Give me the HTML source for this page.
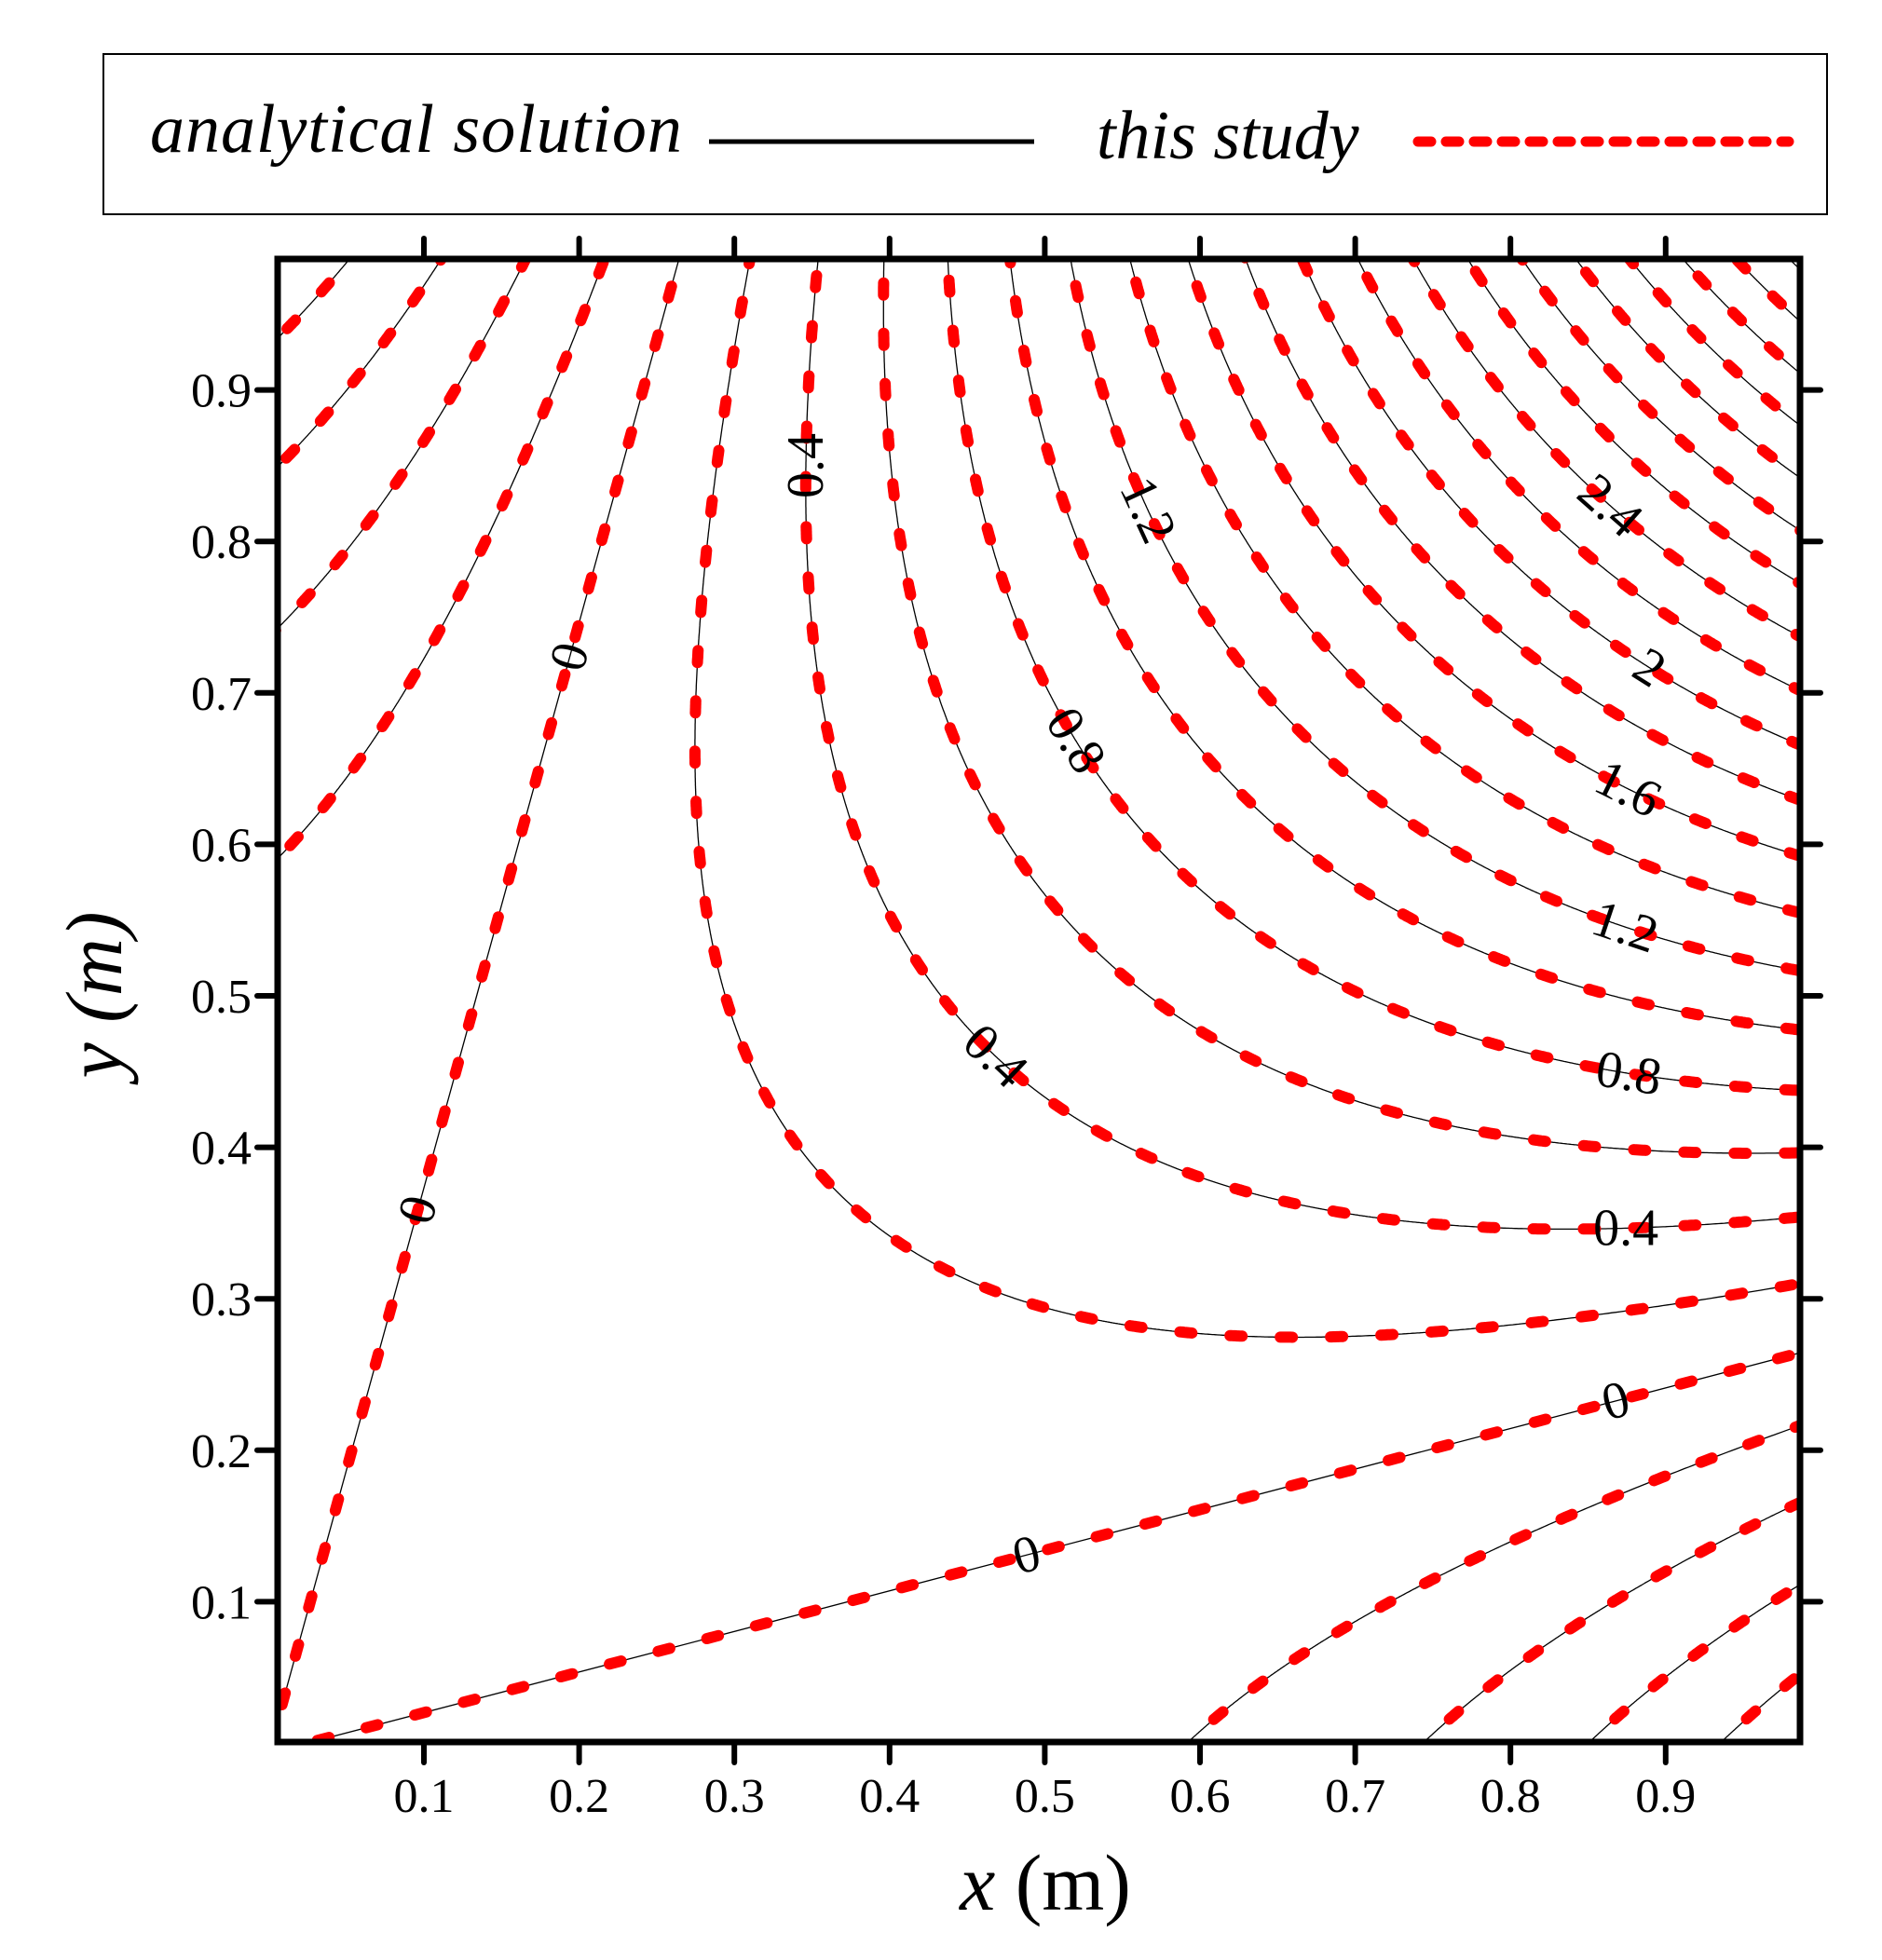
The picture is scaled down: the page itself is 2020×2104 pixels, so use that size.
<!DOCTYPE html>
<html><head><meta charset="utf-8"><style>
html,body{margin:0;padding:0;background:#fff}
svg{display:block}
text{font-family:"Liberation Serif",serif;fill:#000}
</style></head><body>
<svg id="s" width="2020" height="2104" viewBox="0 0 2020 2104" xmlns="http://www.w3.org/2000/svg">
<defs><clipPath id="cp"><rect x="298" y="278" width="1634" height="1592"/></clipPath></defs>
<rect x="111" y="58" width="1850" height="172" fill="none" stroke="#000" stroke-width="2"/>
<text x="161" y="163" font-size="74" font-style="italic" letter-spacing="1">analytical solution</text>
<line x1="761" y1="152" x2="1110" y2="152" stroke="#000" stroke-width="5"/>
<text x="1177" y="170" font-size="74" font-style="italic">this study</text>
<line x1="1522" y1="152" x2="1920" y2="152" stroke="#f00" stroke-width="11" stroke-dasharray="14 16" stroke-linecap="round"/>
<g id="curves" clip-path="url(#cp)"></g>
<g id="labels"></g>
<rect x="298" y="278" width="1634" height="1592" fill="none" stroke="#000" stroke-width="7"/>
<g id="ticks"></g>
<text x="1122" y="2050" font-size="86" text-anchor="middle"><tspan font-style="italic">x</tspan> (m)</text>
<text transform="translate(130,1068) rotate(-90)" font-size="86" text-anchor="middle" font-style="italic">y (m)</text>
</svg>
<script>
var NS="http://www.w3.org/2000/svg";
function X(x){return 288.4+1666*x;}
function Y(y){return 1882-1626*y;}
function f(x,y){return 3*x*x*y+3*x*y*y-x*x*x-y*y*y;}
function el(t,a,p){var e=document.createElementNS(NS,t);for(var k in a)e.setAttribute(k,a[k]);(p||document.getElementById('s')).appendChild(e);return e;}
var cg=document.getElementById('curves');
function draw(pts){
  if(pts.length<2)return;
  var d="M"+pts.map(function(p){return p[0].toFixed(1)+","+p[1].toFixed(1)}).join("L");
  el('path',{d:d,fill:'none',stroke:'#000','stroke-width':1.3},cg);
  el('path',{d:d,fill:'none',stroke:'#f00','stroke-width':12,'stroke-dasharray':'13 41','stroke-linecap':'round'},cg);
}
var levels=[];
for(var i=-4;i<=20;i++){levels.push(Math.round(i*20)/100);}
levels.forEach(function(c){
  if(Math.abs(c)<1e-9){
    [15,75].forEach(function(a){var t=a*Math.PI/180;draw([[X(0),Y(0)],[X(2*Math.cos(t)),Y(2*Math.sin(t))]]);});
    return;
  }
  var seg=[];
  for(var k=0;k<=3000;k++){
    var t=k/3000*Math.PI/2;
    var g=f(Math.cos(t),Math.sin(t));
    if(g*c>0){
      var r=Math.cbrt(c/g);
      if(r<2.5){var x=r*Math.cos(t),y=r*Math.sin(t);
        if(x>-0.05&&x<1.05&&y>-0.05&&y<1.05){seg.push([X(x),Y(y)]);continue;}}
    }
    if(seg.length){draw(seg);seg=[];}
  }
  if(seg.length)draw(seg);
});
var lg=document.getElementById('labels');
var labs=[["0.4",0.4,0.345,0.85,-90],["0",0,0.19,0.725,null],["0",0,0.092,0.36,null],["1.2",1.2,0.565,0.82,null],["0.8",0.8,0.505,0.66,null],["0.4",0.4,0.468,0.46,null],
["2.4",2.4,0.87,0.83,null],["2",2,0.905,0.74,null],["1.6",1.6,0.875,0.635,null],["1.2",1.2,0.872,0.54,null],["0.8",0.8,0.875,0.44,null],["0.4",0.4,0.875,0.335,0],["0",0,0.87,0.225,null],["0",0,0.49,0.125,null]];
labs.forEach(function(l){
  var c=l[1],x=l[2],y=l[3],a=l[4],h=1e-5;
  for(var it=0;it<20;it++){
    var gx=(f(x+h,y)-f(x-h,y))/(2*h),gy=(f(x,y+h)-f(x,y-h))/(2*h);
    var e=(f(x,y)-c)/(gx*gx+gy*gy);x-=e*gx;y-=e*gy;
  }
  if(a===null){
    var gx=(f(x+h,y)-f(x-h,y))/(2*h),gy=(f(x,y+h)-f(x,y-h))/(2*h);
    var tx=-gy*1666,ty=-gx*1626;
    a=Math.atan2(ty,tx)*180/Math.PI;
    if(a>90)a-=180; if(a<=-90)a+=180;
  }
  var cx=X(x),cy=Y(y);
  var t=el('text',{x:cx,y:cy+18,'font-size':56,'text-anchor':'middle',transform:'rotate('+a.toFixed(1)+' '+cx+' '+cy+')'},lg);
  t.textContent=l[0];
});
var tg=document.getElementById('ticks');
for(var i=1;i<=9;i++){
  var v=i/10,px=X(v),py=Y(v);
  el('line',{x1:px,y1:1870,x2:px,y2:1892,stroke:'#000','stroke-width':6,'stroke-linecap':'round'},tg);
  el('line',{x1:px,y1:278,x2:px,y2:256,stroke:'#000','stroke-width':6,'stroke-linecap':'round'},tg);
  el('line',{x1:298,y1:py,x2:276,y2:py,stroke:'#000','stroke-width':6,'stroke-linecap':'round'},tg);
  el('line',{x1:1932,y1:py,x2:1954,y2:py,stroke:'#000','stroke-width':6,'stroke-linecap':'round'},tg);
  var t1=el('text',{x:px,y:1945,'font-size':52,'text-anchor':'middle'},tg);t1.textContent=v.toFixed(1);
  var t2=el('text',{x:270,y:py+18,'font-size':52,'text-anchor':'end'},tg);t2.textContent=v.toFixed(1);
}
</script>
</body></html>
